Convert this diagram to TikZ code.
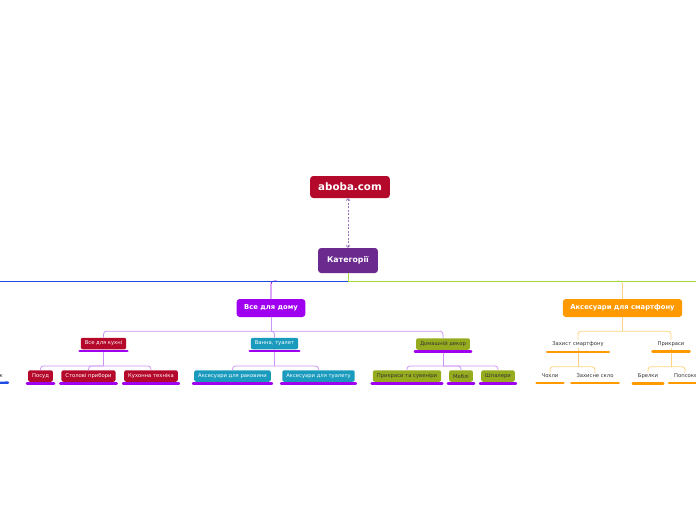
\documentclass[tikz,border=0pt]{standalone}
\usepackage{fontspec}
\setmainfont{DejaVu Sans}
\usetikzlibrary{arrows.meta}
\definecolor{abobared}{RGB}{181,9,43}
\definecolor{katpurple}{RGB}{106,42,142}
\definecolor{domviolet}{RGB}{160,0,240}
\definecolor{lightviolet}{RGB}{205,150,245}
\definecolor{bathteal}{RGB}{26,155,190}
\definecolor{decorolive}{RGB}{150,172,30}
\definecolor{phoneorange}{RGB}{255,153,0}
\definecolor{lightorange}{RGB}{255,210,130}
\definecolor{limeline}{RGB}{165,222,60}
\definecolor{blueline}{RGB}{30,75,230}
\definecolor{dashpurple}{RGB}{150,115,185}

\begin{document}
\begin{tikzpicture}[x=1pt,y=-1pt,
  bigbox/.style={rounded corners=3pt, text=white, inner ysep=0pt, font=\bfseries\fontsize{6.8}{8}\selectfont, minimum height=18pt, inner xsep=7.5pt},
  box/.style={rounded corners=2pt, text=white, inner xsep=4pt, inner ysep=0pt, minimum height=11.5pt, font=\fontsize{5.25}{6}\selectfont},
  plain/.style={text=black!80, inner sep=1pt, font=\fontsize{5.25}{6}\selectfont},
  vbar/.style={line width=2.4pt, line cap=round, draw=domviolet},
  obar/.style={line width=2.4pt, line cap=round, draw=phoneorange},
  conn/.style={line width=0.8pt},
  elbow/.style={line width=0.8pt, rounded corners=3pt},
]
\useasboundingbox (0,0) rectangle (696,520);
\clip (0,0) rectangle (696,520);

% top
\node[bigbox, fill=abobared, minimum height=22pt, inner xsep=8pt, font=\bfseries\fontsize{10.3}{12}\selectfont] (site) at (350,187) {aboba.com};
\node[bigbox, fill=katpurple, minimum height=25pt, inner xsep=9pt, font=\bfseries\fontsize{7.8}{9}\selectfont] (kat) at (348,260.5) {Категорії};
\draw[dashed, dash pattern=on 2pt off 1.5pt, line width=0.7pt, draw=dashpurple, {Straight Barb[length=2pt,width=4pt]}-{Straight Barb[length=2pt,width=4pt]}] (kat.north) -- (kat.north |- site.south);

% first level
\node[bigbox, fill=domviolet] (dom) at (271,308) {Все для дому};
\node[bigbox, fill=phoneorange] (smart) at (622.5,308) {Аксесуари для смартфону};

\coordinate (lend) at (0,281);
\coordinate (rend) at (696,281);
\draw[elbow, draw=domviolet] ([xshift=6pt]dom.north |- lend) -| (dom.north);
\draw[elbow, draw=lightorange] ([xshift=-6pt]smart.north |- rend) -| (smart.north);
\draw[line width=0.9pt, draw=limeline] (kat.south) |- (rend);
\draw[line width=0.9pt, draw=blueline] (kat.south |- lend) -- (lend);

% Все для дому
\node[box, fill=abobared] (kuh) at (103.5,343.5) {Все для кухні};
\node[box, fill=bathteal] (van) at (274.5,343.5) {Ванна, туалет};
\node[box, fill=decorolive, text=black!80] (dek) at (443,344) {Домашній декор};

\node[box, fill=abobared] (posud) at (40.5,376) {Посуд};
\node[box, fill=abobared] (stol) at (88.5,376) {Столові прибори};
\node[box, fill=abobared] (tekh) at (151,376) {Кухонна техніка};
\node[box, fill=bathteal] (rak) at (232.5,376) {Аксесуари для раковини};
\node[box, fill=bathteal] (tual) at (318.5,376) {Аксесуари для туалету};
\node[box, fill=decorolive, text=black!80] (suv) at (407,376) {Прикраси та сувеніри};
\node[box, fill=decorolive, text=black!80] (mebl) at (461,376) {Меблі};
\node[box, fill=decorolive, text=black!80] (shpal) at (498,376) {Шпалери};

% Аксесуари для смартфону
\node[plain] (zakh) at (578,344) {Захист смартфону};
\node[plain] (prykr) at (671,344) {Прикраси};
\node[plain] (chokh) at (550,376) {Чохли};
\node[plain] (sklo) at (595,376) {Захисне скло};
\node[plain] (brel) at (648,376) {Брелки};
\node[plain, anchor=west] (pops) at (673,376) {Попсокети};

% cut off at the left edge
\node[plain, anchor=east] (left) at (4,376) {к};
\draw[line width=2.4pt, line cap=round, draw=blueline] (-10,383) -- ([xshift=4pt,yshift=-4pt]left.south east);

% connectors
\draw[conn, draw=lightviolet] (dom.south) -- ++(0,14) coordinate (domb);
\foreach \c in {kuh,van,dek}
  \draw[elbow, draw=lightviolet] (domb) -| (\c.north);
\draw[conn, draw=lightviolet] (kuh.south) -- ++(0,16.5) coordinate (kuhb);
\foreach \c in {posud,stol,tekh}
  \draw[elbow, draw=lightviolet] (kuhb) -| (\c.north);
\draw[conn, draw=lightviolet] (van.south) -- ++(0,16.5) coordinate (vanb);
\foreach \c in {rak,tual}
  \draw[elbow, draw=lightviolet] (vanb) -| (\c.north);
\draw[conn, draw=lightviolet] (dek.south) -- ++(0,16) coordinate (dekb);
\foreach \c in {suv,mebl,shpal}
  \draw[elbow, draw=lightviolet] (dekb) -| (\c.north);

\draw[conn, draw=lightorange] (smart.south) -- ++(0,14) coordinate (smartb);
\foreach \c in {zakh,prykr}
  \draw[elbow, draw=lightorange] (smartb) -| (\c.north);
\draw[conn, draw=lightorange] (zakh.south) -- ++(0,19) coordinate (zakhb);
\foreach \c in {chokh,sklo}
  \draw[elbow, draw=lightorange] (zakhb) -| (\c.north);
\draw[conn, draw=lightorange] (prykr.south) -- ++(0,19) coordinate (prykrb);
\foreach \c in {brel}
  \draw[elbow, draw=lightorange] (prykrb) -| (\c.north);
\draw[elbow, draw=lightorange] (prykrb) -| ([xshift=12pt]pops.north west);

% underlines
\foreach \n in {kuh,van,dek,posud,stol,tekh,rak,tual,suv,mebl,shpal}
  \draw[vbar] ([xshift=-1pt,yshift=-1.5pt]\n.south west) -- ([xshift=1pt,yshift=-1.5pt]\n.south east);
\foreach \n in {zakh,prykr,chokh,sklo,brel,pops}
  \draw[obar] ([xshift=-4pt,yshift=-4pt]\n.south west) -- ([xshift=4pt,yshift=-4pt]\n.south east);
\end{tikzpicture}
\end{document}
